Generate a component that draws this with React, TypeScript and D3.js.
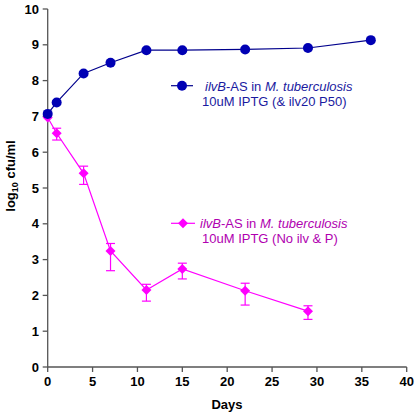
import React from "react";
import * as d3 from "d3";

const blueDays = [0, 1, 4, 7, 11, 15, 22, 29, 36];
const blueVals = [7.07, 7.39, 8.2, 8.5, 8.85, 8.85, 8.87, 8.91, 9.13];

const magDays = [0, 1, 4, 7, 11, 15, 22, 29];
const magVals = [6.97, 6.53, 5.41, 3.24, 2.15, 2.74, 2.13, 1.56];
const magLow = [6.97, 6.34, 5.1, 2.69, 1.84, 2.46, 1.73, 1.33];
const magHigh = [6.97, 6.67, 5.61, 3.45, 2.31, 2.9, 2.34, 1.71];

const xTicks = [0, 5, 10, 15, 20, 25, 30, 35, 40];
const yTicks = [0, 1, 2, 3, 4, 5, 6, 7, 8, 9, 10];

export default function App() {
  const W = 417, H = 416;
  const x = d3.scaleLinear().domain([0, 40]).range([47.7, 406.7]);
  const y = d3.scaleLinear().domain([0, 10]).range([367, 9]);
  const line = d3.line<[number, number]>().x(d => x(d[0])).y(d => y(d[1]));
  const blue = "#0000b4";
  const blueLine = "#00008c";
  const mag = "#ff00ff";
  const font = "Arial, 'Liberation Sans', sans-serif";
  const axisCol = "#555";
  const diamond = (cx: number, cy: number, r: number) =>
    `M${cx},${cy - r}L${cx + r},${cy}L${cx},${cy + r}L${cx - r},${cy}Z`;

  return (
    <svg width={W} height={H} style={{ position: "absolute", left: 0, top: 0 }} fontFamily={font}>
      <rect width={W} height={H} fill="#fff" />
      {/* axes */}
      <line x1={x(0)} x2={x(40)} y1={y(0)} y2={y(0)} stroke={axisCol} strokeWidth={1.3} />
      <line x1={x(0)} x2={x(0)} y1={y(0)} y2={y(10)} stroke={axisCol} strokeWidth={1.3} />
      {xTicks.map(t => (
        <g key={"x" + t}>
          <line x1={x(t)} x2={x(t)} y1={y(0)} y2={y(0) + 5} stroke={axisCol} strokeWidth={1.3} />
          <text x={x(t)} y={386} textAnchor="middle" fontSize={13} fontWeight="bold">{t}</text>
        </g>
      ))}
      {yTicks.map(t => (
        <g key={"y" + t}>
          <line x1={x(0) - 5} x2={x(0)} y1={y(t)} y2={y(t)} stroke={axisCol} strokeWidth={1.3} />
          <text x={39} y={y(t) + 4.5} textAnchor="end" fontSize={13} fontWeight="bold">{t}</text>
        </g>
      ))}
      <text x={227} y={409} textAnchor="middle" fontSize={13} fontWeight="bold">Days</text>
      <text transform="translate(15,176) rotate(-90)" textAnchor="middle" fontSize={13} fontWeight="bold">
        log<tspan fontSize={9} dy={3}>10</tspan><tspan dy={-3}> cfu/ml</tspan>
      </text>

      {/* magenta series */}
      <path d={line(magDays.map((d, i) => [d, magVals[i]]) as [number, number][]) || ""} fill="none" stroke={mag} strokeWidth={1.2} />
      {magDays.map((d, i) => (
        <g key={"m" + i} stroke={mag} strokeWidth={1.2}>
          {magHigh[i] !== magLow[i] && (
            <>
              <line x1={x(d)} x2={x(d)} y1={y(magLow[i])} y2={y(magHigh[i])} />
              <line x1={x(d) - 4.5} x2={x(d) + 4.5} y1={y(magLow[i])} y2={y(magLow[i])} />
              <line x1={x(d) - 4.5} x2={x(d) + 4.5} y1={y(magHigh[i])} y2={y(magHigh[i])} />
            </>
          )}
          <path d={diamond(x(d), y(magVals[i]), 5)} fill={mag} stroke="none" />
        </g>
      ))}

      {/* blue series */}
      <path d={line(blueDays.map((d, i) => [d, blueVals[i]]) as [number, number][]) || ""} fill="none" stroke={blueLine} strokeWidth={1.2} />
      {blueDays.map((d, i) => (
        <circle key={"b" + i} cx={x(d)} cy={y(blueVals[i])} r={5} fill={blue} />
      ))}

      {/* legends */}
      <line x1={171} x2={193} y1={85.7} y2={85.7} stroke={blueLine} strokeWidth={1.2} />
      <circle cx={182} cy={85.7} r={5} fill={blue} />
      <text x={205} y={90.5} fontSize={13} fill="#1a1aa0">
        <tspan fontStyle="italic">ilvB</tspan>-AS in <tspan fontStyle="italic">M. tuberculosis</tspan>
      </text>
      <text x={202} y={106} fontSize={13} fill="#1a1aa0">10uM  IPTG (&amp; ilv20 P50)</text>

      <line x1={171} x2={195} y1={223.3} y2={223.3} stroke={mag} strokeWidth={1.2} />
      <path d={diamond(183, 223.3, 5)} fill={mag} />
      <text x={200} y={228} fontSize={13} fill="#b000b0">
        <tspan fontStyle="italic">ilvB</tspan>-AS in <tspan fontStyle="italic">M. tuberculosis</tspan>
      </text>
      <text x={202} y={243} fontSize={13} fill="#b000b0">10uM  IPTG (No ilv &amp; P)</text>
    </svg>
  );
}
